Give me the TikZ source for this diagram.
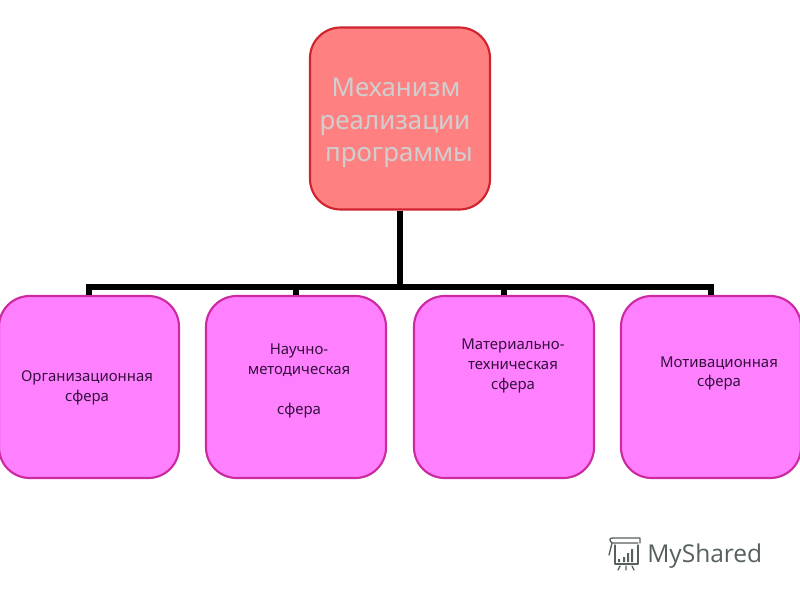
\documentclass[tikz,border=0pt]{standalone}
\usepackage{fontspec}
\setmainfont{Noto Sans}
\newfontfamily\logofont{Open Sans}
\definecolor{topfill}{HTML}{FF8080}
\definecolor{topline}{HTML}{CF2430}
\definecolor{topink}{HTML}{CFCFCF}
\definecolor{subfill}{HTML}{FF80FF}
\definecolor{subline}{HTML}{CC2AA0}
\definecolor{subink}{HTML}{35103F}
\definecolor{logoink}{HTML}{56605C}
\tikzset{
  x=0.75pt,y=-0.75pt,
  boxbase/.style={draw,line width=1.6pt,rounded corners=23pt,minimum width=135pt,minimum height=136.5pt,inner sep=0pt},
  topbox/.style={boxbase,fill=topfill,draw=topline},
  subbox/.style={boxbase,fill=subfill,draw=subline},
  toptext/.style={text=topink,font=\fontsize{19.4}{24.7}\selectfont,inner sep=0pt,align=center,anchor=base},
  subtext/.style={text=subink,font=\fontsize{11.2}{14.8}\selectfont,inner sep=0pt,align=center},
  bus/.style={line width=5pt,black,line cap=butt,line join=miter},
  logoline/.style={draw=logoink,line width=1pt,line cap=round,line join=round}
}
\begin{document}
\begin{tikzpicture}
\useasboundingbox (0,0) rectangle (800,600);
\fill[white] (0,0) rectangle (800,600);
\coordinate (busline) at (400,287);
\coordinate (busL) at (89,287);
\coordinate (busR) at (711,287);
\node[topbox] (top) at (400,118.5) {};
\node[subbox] (a) at (89,387) {};
\node[subbox] (b) at (296,387) {};
\node[subbox] (c) at (504,387) {};
\node[subbox] (d) at (711,387) {};
\draw[bus] (top.south) -- (busline);
\draw[bus] ([xshift=-2.5pt]busL) -- ([xshift=2.5pt]busR);
\draw[bus] (busL) -- (a.north);
\draw[bus] (b.north |- busline) -- (b.north);
\draw[bus] (c.north |- busline) -- (c.north);
\draw[bus] (busR) -- (d.north);
\node[toptext] (t1) at (396,96) {Механизм};
\node[toptext] (t2) at (395,129) {реализации};
\node[toptext] (t3) at (399,161) {программы};
\node[subtext] (ta) at (87,388) {Организационная\\сфера};
\node[subtext] (tb) at (299,381) {Научно-\\методическая\\[14.8pt]сфера};
\node[subtext] (tc) at (513,366) {Материально-\\техническая\\сфера};
\node[subtext] (td) at (719,373.5) {Мотивационная\\сфера};
% logo
\node[text=logoink,font=\logofont\fontsize{18.4}{24}\selectfont,inner sep=0pt,anchor=west] (logo) at (647,556) {MyShared};
\draw[logoline] (612,543) -- (638,543) (612,543) .. controls (609,540) and (609,538) .. (613,538) -- (640,538) -- (640,543);
\draw[logoline] (612,543) -- (609,555);
\draw[logoline] (615,545) -- (615,564) -- (638,564) -- (638,545);
\fill[logoink] (618,559) rectangle (620,562) (623,557) rectangle (625,562) (627,553) rectangle (629,562) (631,549) rectangle (633,562);
\draw[logoline] (620,566) -- (618,570) (626,566) -- (626,570) (632,566) -- (634,570);
\end{tikzpicture}
\end{document}
